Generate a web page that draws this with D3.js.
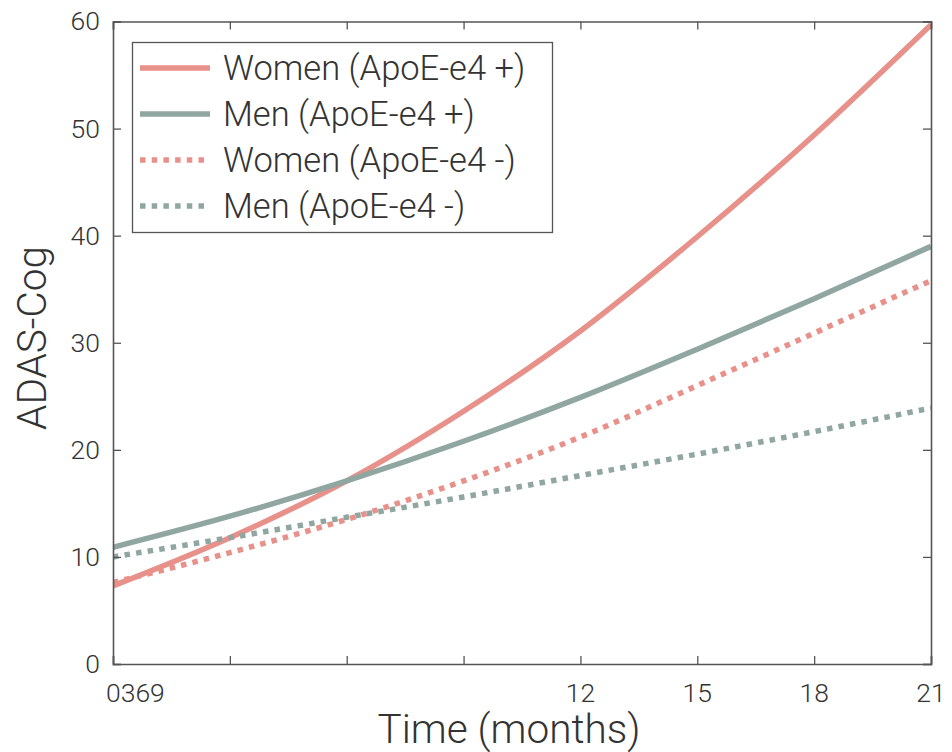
<!DOCTYPE html>
<html><head><meta charset="utf-8">
<script src="https://cdn.jsdelivr.net/npm/d3@7"></script>
<style>
body{margin:0;background:#fff;}
text{font-family:Roboto,"Liberation Sans",sans-serif;font-weight:300;fill:#333;}
</style></head>
<body><svg id="c" width="952" height="752"></svg>
<script>
const months = [0, 3, 6, 9, 12, 15, 18, 21];
const tickLabels = ["0", "3", "6", "9", "12", "15", "18", "21"];
const yTicks = [0, 10, 20, 30, 40, 50, 60];
const seriesNames = ["Women (ApoE-e4 +)", "Men (ApoE-e4 +)", "Women (ApoE-e4 -)", "Men (ApoE-e4 -)"];
const womenPos = [7.3, 11.8, 17.1, 23.6, 31.1, 39.9, 49.4, 59.7];
const menPos   = [10.9, 13.8, 17.1, 20.8, 24.9, 29.4, 34.1, 39.0];
const womenNeg = [7.6, 10.4, 13.5, 17.1, 21.2, 26.0, 30.9, 35.8];
const menNeg   = [10.0, 11.8, 13.7, 15.6, 17.6, 19.6, 21.7, 23.9];

const RED = "#E8918A", GRAY = "#90A6A1";
const series = [
  {name: seriesNames[0], values: womenPos, color: RED, dash: null},
  {name: seriesNames[1], values: menPos, color: GRAY, dash: null},
  {name: seriesNames[2], values: womenNeg, color: RED, dash: "5.5,6.2"},
  {name: seriesNames[3], values: menNeg, color: GRAY, dash: "5.5,6.2"}
];

const svg = d3.select("#c");
const L = 113, R = 931, T = 21.5, B = 664;
const x = d3.scaleLinear().domain([0, 21]).range([L, R]);
const y = d3.scaleLinear().domain([0, 60]).range([B, T]);
const axisColor = "#555";

// lines
const line = d3.line().x((d, i) => x(months[i])).y(d => y(d)).curve(d3.curveMonotoneX);
svg.append("clipPath").attr("id", "pc").append("rect")
  .attr("x", L).attr("y", T - 3).attr("width", R - L).attr("height", B - T + 3);
svg.append("g").attr("clip-path", "url(#pc)").selectAll("path").data(series).join("path")
  .attr("d", d => line(d.values))
  .attr("fill", "none").attr("stroke", d => d.color).attr("stroke-width", 5.5)
  .attr("stroke-dasharray", d => d.dash);

// axes (MATLAB style box with inward ticks)
const tk = 8;
const gx = svg.append("g").attr("transform", `translate(0,${B})`)
  .call(d3.axisBottom(x).tickValues(months).tickSize(-tk).tickFormat(""));
const gxt = svg.append("g").attr("transform", `translate(0,${T})`)
  .call(d3.axisTop(x).tickValues(months).tickSize(-tk).tickFormat(""));
const gy = svg.append("g").attr("transform", `translate(${L},0)`)
  .call(d3.axisLeft(y).tickValues(yTicks).tickSize(-tk).tickPadding(13).tickFormat(d3.format("d")));
const gyr = svg.append("g").attr("transform", `translate(${R},0)`)
  .call(d3.axisRight(y).tickValues(yTicks).tickSize(-tk).tickFormat(""));
[gx, gxt, gy, gyr].forEach(g => {
  g.selectAll("path.domain").attr("stroke", axisColor).attr("stroke-width", 1.6);
  g.selectAll(".tick line").attr("stroke", axisColor).attr("stroke-width", 1.3);
});
gy.selectAll(".tick text").style("font-size", "26.5px").attr("fill", "#333")
  .style("font-family", "Roboto,'Liberation Sans',sans-serif").style("font-weight", 300);

// x tick labels: first four crammed together at origin (as in the reference)
const xl = svg.append("g").style("font-size", "26.5px");
xl.append("text").attr("x", x(0) - 7).attr("y", 702)
  .text(tickLabels.slice(0, 4).join(""));
xl.selectAll("text.t").data(months.slice(4)).join("text").attr("class", "t")
  .attr("x", d => x(d)).attr("y", 702).attr("text-anchor", "middle")
  .text((d, i) => tickLabels[i + 4]);

// axis labels
svg.append("text").attr("x", 509).attr("y", 743).attr("text-anchor", "middle")
  .style("font-size", "40.5px").text("Time (months)");
svg.append("text").attr("transform", "translate(46,338) rotate(-90)").attr("text-anchor", "middle")
  .style("font-size", "40.5px").text("ADAS-Cog");

// legend
const lg = svg.append("g");
lg.append("rect").attr("x", 132.5).attr("y", 42.5).attr("width", 420).attr("height", 190)
  .attr("fill", "#fff").attr("stroke", axisColor).attr("stroke-width", 1.3);
const rows = lg.selectAll("g.r").data(series).join("g").attr("class", "r")
  .attr("transform", (d, i) => `translate(0,${68 + i * 46})`);
rows.append("line").attr("x1", 140).attr("x2", 210).attr("y1", 0).attr("y2", 0)
  .attr("stroke", d => d.color).attr("stroke-width", 5.5).attr("stroke-dasharray", d => d.dash);
rows.append("text").attr("x", 223).attr("y", 12).style("font-size", "34.5px").text(d => d.name);
</script></body></html>
